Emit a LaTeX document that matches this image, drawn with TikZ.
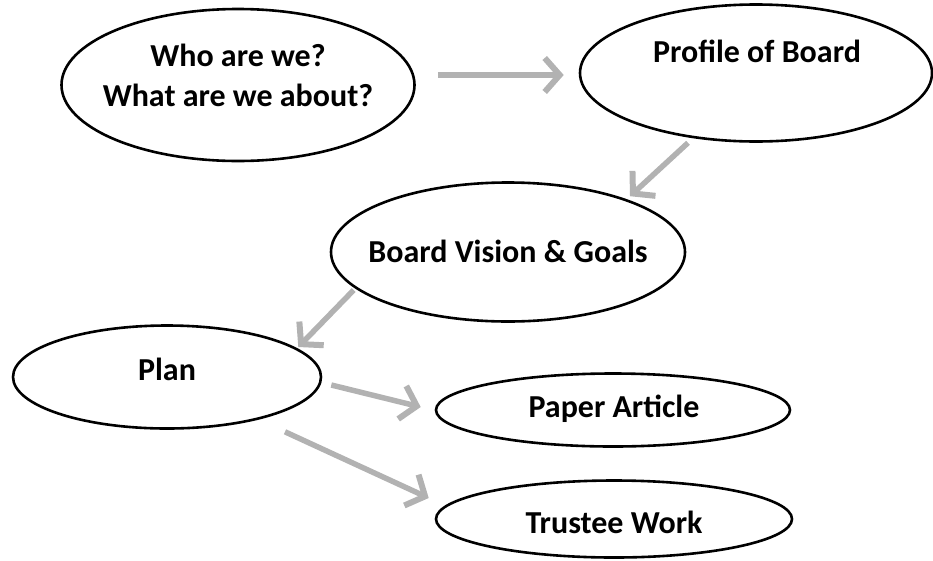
\documentclass[tikz,border=0pt]{standalone}
\usepackage{fontspec}
\setmainfont{Carlito}
\usetikzlibrary{shapes.geometric,arrows.meta,calc}
\tikzset{
  oval/.style={ellipse, draw=black, line width=2.6pt, inner sep=0pt, fill=white},
  lbl/.style={font=\fontsize{32}{40}\selectfont\bfseries, align=center, inner sep=0pt},
  garrow/.style={draw=gray!60, line width=5.5pt,
    -{Straight Barb[length=15pt, width=34pt, line width=6pt]}}
}
\begin{document}
\begin{tikzpicture}[x=1pt, y=-1pt]
\useasboundingbox (0,0) rectangle (933,560);
% ellipses
\node[oval, minimum width=353pt, minimum height=152pt] (who) at (238,85) {};
\node[oval, minimum width=352pt, minimum height=137pt] (prof) at (756,73) {};
\node[oval, minimum width=354pt, minimum height=139pt] (vision) at (508,252) {};
\node[oval, minimum width=308pt, minimum height=103pt] (plan) at (167,377) {};
\node[oval, minimum width=354pt, minimum height=73pt] (paper) at (613,410) {};
\node[oval, minimum width=356pt, minimum height=77pt] (trustee) at (614,519) {};
% labels
\node[lbl] (twho) at (238,75) {Who are we?\\What are we about?};
\node[lbl, anchor=base] (tprof) at (757,62) {Profile of Board};
\node[lbl, anchor=base] (tvision) at (508,262) {Board Vision \& Goals};
\node[lbl, anchor=base] (tplan) at (167,380) {Plan};
\node[lbl, anchor=base] (tpaper) at (614,417) {Paper Article};
\node[lbl, anchor=base] (ttrustee) at (614,533) {Trustee Work};
% arrows
\draw[garrow] ($(who.east)+(22,-10)$) -- ($(prof.west)+(-15,2)$);
\draw[garrow] ($(prof.south)+(-68,0)$) -- ($(vision.north)+(122,15)$);
\draw[garrow] ($(vision.west)+(24,38)$) -- ($(plan.east)+(-24,-30)$);
\draw[garrow] ($(plan.east)+(9,8)$) -- ($(paper.west)+(-14,-3)$);
\draw[garrow] ($(plan.south)+(118,2)$) -- ($(trustee.west)+(-6,-21)$);
\end{tikzpicture}
\end{document}
